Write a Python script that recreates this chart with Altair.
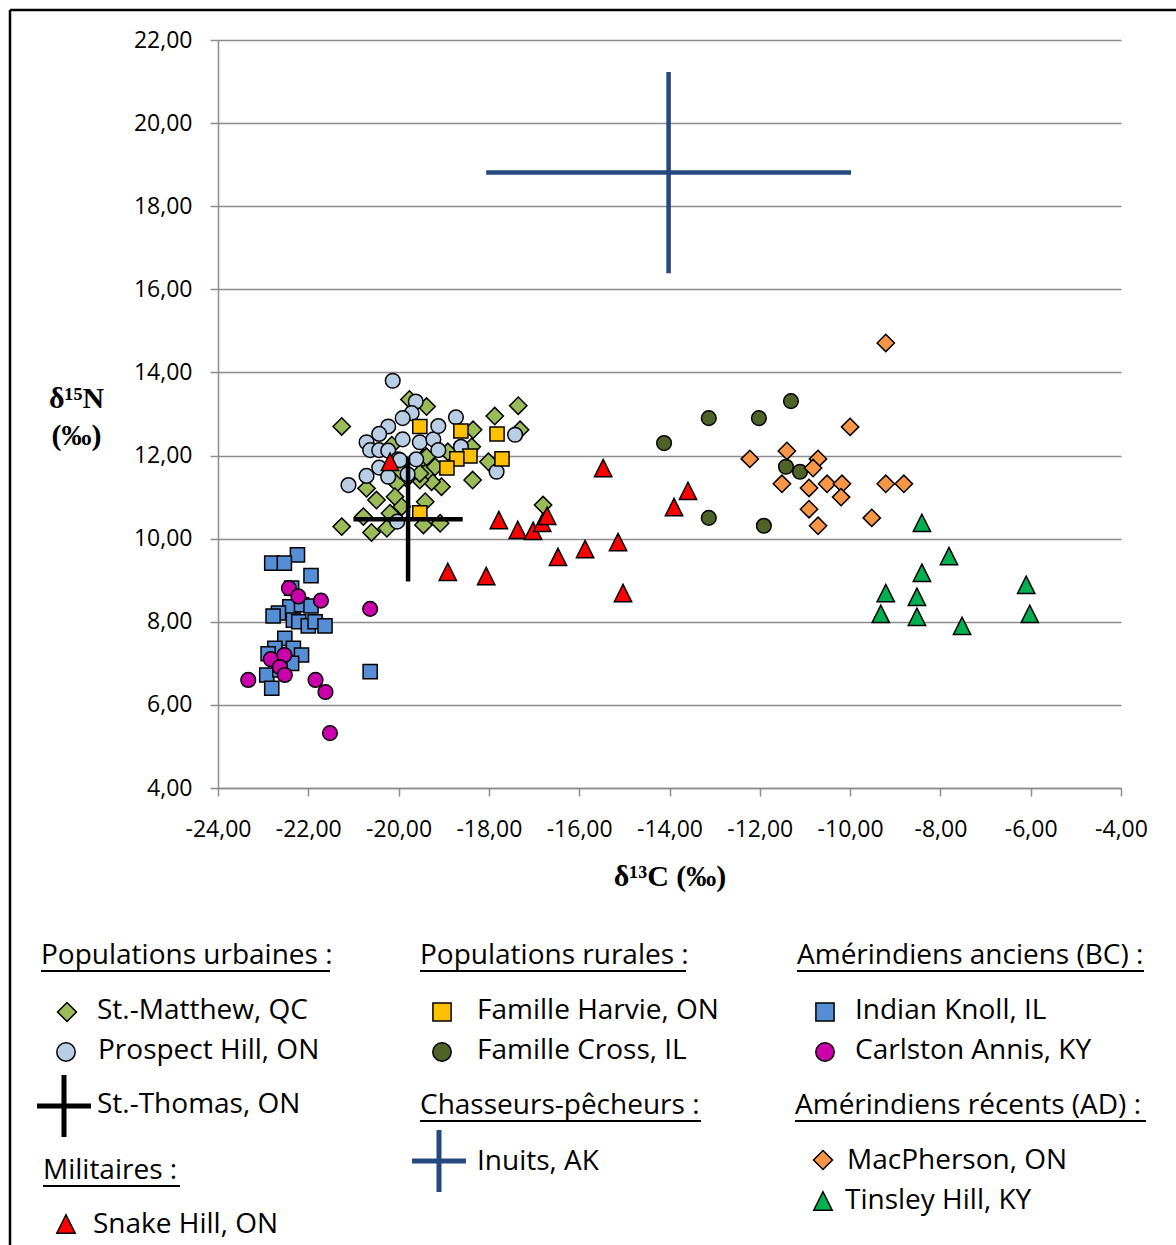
import altair as alt
import pandas as pd

# ---------------- data: (δ13C, δ15N) ----------------
st_matthew = [(-21.26, 12.70), (-19.76, 13.35), (-19.38, 13.18), (-18.35, 12.62), (-17.87, 12.95),
              (-17.35, 13.20), (-17.31, 12.62), (-18.01, 11.85), (-18.36, 11.41), (-19.05, 11.25),
              (-19.27, 11.37), (-19.38, 11.61), (-19.53, 11.41), (-19.46, 11.94), (-19.82, 11.45),
              (-20.04, 11.33), (-20.71, 11.21), (-20.49, 10.93), (-20.08, 11.01), (-19.93, 10.77),
              (-19.41, 10.89), (-20.78, 10.53), (-20.19, 10.61), (-21.26, 10.29), (-20.60, 10.15),
              (-20.26, 10.25), (-19.45, 10.33), (-19.08, 10.37), (-18.91, 12.09), (-19.38, 11.97),
              (-19.97, 11.65), (-19.19, 11.73), (-19.53, 11.57), (-20.15, 12.25), (-16.80, 10.81),
              (-18.38, 12.21)]
prospect_hill = [(-20.13, 13.80), (-19.62, 13.30), (-19.71, 13.02), (-19.91, 12.90), (-20.23, 12.70),
                 (-20.43, 12.52), (-20.71, 12.32), (-20.63, 12.13), (-20.43, 12.13), (-20.23, 12.12),
                 (-19.91, 12.39), (-19.53, 12.32), (-19.23, 12.39), (-19.12, 12.13), (-19.12, 12.71),
                 (-18.73, 12.92), (-18.62, 12.21), (-20.01, 11.91), (-19.61, 11.91), (-20.43, 11.71),
                 (-20.23, 11.49), (-20.71, 11.51), (-21.11, 11.29), (-20.03, 10.41), (-17.83, 11.61),
                 (-17.42, 12.50), (-19.97, 11.89), (-19.80, 11.55)]
famille_harvie = [(-19.53, 12.70), (-18.62, 12.59), (-17.82, 12.52), (-18.42, 11.99), (-18.71, 11.92),
                  (-18.93, 11.70), (-17.71, 11.92), (-19.53, 10.62)]
famille_cross = [(-14.12, 12.30), (-13.13, 12.90), (-12.02, 12.90), (-11.31, 13.31), (-11.42, 11.73),
                 (-11.11, 11.61), (-13.13, 10.50), (-11.91, 10.31)]
indian_knoll = [(-22.24, 9.61), (-22.81, 9.41), (-22.53, 9.41), (-21.94, 9.11), (-22.37, 8.81),
                (-22.41, 8.36), (-22.15, 8.41), (-21.94, 8.38), (-22.66, 8.21), (-22.78, 8.14),
                (-22.33, 8.04), (-22.21, 8.00), (-22.00, 7.90), (-21.85, 8.00), (-21.63, 7.90),
                (-22.52, 7.60), (-22.74, 7.36), (-22.89, 7.23), (-22.33, 7.36), (-22.15, 7.20),
                (-22.37, 7.00), (-22.92, 6.72), (-22.81, 6.40), (-22.63, 6.84), (-20.63, 6.80)]
carlston_annis = [(-22.43, 8.81), (-22.22, 8.61), (-21.72, 8.51), (-20.63, 8.31), (-23.33, 6.60),
                  (-22.83, 7.10), (-22.53, 7.20), (-22.63, 6.91), (-22.52, 6.72), (-21.84, 6.60),
                  (-21.62, 6.31), (-21.52, 5.32)]
macpherson = [(-9.21, 14.71), (-10.00, 12.69), (-12.22, 11.92), (-11.40, 12.11), (-10.71, 11.92),
              (-10.82, 11.70), (-11.51, 11.32), (-10.91, 11.22), (-10.51, 11.32), (-10.18, 11.32),
              (-10.20, 11.00), (-9.21, 11.32), (-8.81, 11.32), (-10.91, 10.71), (-9.52, 10.50),
              (-10.71, 10.31)]
tinsley_hill = [(-8.41, 10.38), (-7.81, 9.58), (-8.41, 9.18), (-9.21, 8.69), (-8.52, 8.60),
                (-9.32, 8.19), (-8.52, 8.12), (-7.52, 7.90), (-6.10, 8.89), (-6.02, 8.19)]
snake_hill = [(-20.19, 11.85), (-15.47, 11.70), (-13.59, 11.15), (-13.90, 10.76), (-17.78, 10.45),
              (-17.36, 10.21), (-17.02, 10.19), (-16.82, 10.38), (-16.71, 10.55), (-16.47, 9.56),
              (-15.87, 9.75), (-15.14, 9.92), (-18.91, 9.20), (-18.06, 9.10), (-15.03, 8.69)]

# mean ± sd crosses
cross_names = ["St.-Thomas, ON", "Inuits, AK"]
cross_c_mean = [-19.79, -14.02]
cross_c_sd = [1.21, 4.04]
cross_n_mean = [10.47, 18.81]
cross_n_sd = [1.50, 2.42]

# axis
x_ticks = [-24, -22, -20, -18, -16, -14, -12, -10, -8, -6, -4]
y_ticks = [4, 6, 8, 10, 12, 14, 16, 18, 20, 22]

# ---------------- styles ----------------
TRI = "M0,-1L1,1L-1,1Z"
CROSS = "M-0.87,0H0.87M0,-1V1"
style = {
    "St.-Matthew, QC": ("diamond", "#9bbb59", 300),
    "Prospect Hill, ON": ("circle", "#b9cde5", 215),
    "Famille Harvie, ON": ("square", "#ffc000", 200),
    "Famille Cross, IL": ("circle", "#4f6228", 215),
    "Indian Knoll, IL": ("square", "#558ed5", 200),
    "Carlston Annis, KY": ("circle", "#cc00aa", 215),
    "MacPherson, ON": ("diamond", "#f79646", 300),
    "Tinsley Hill, KY": (TRI, "#00b050", 300),
    "Snake Hill, ON": (TRI, "#ff0000", 300),
}
cross_color = {"St.-Thomas, ON": "black", "Inuits, AK": "#24487f"}
series = [
    ("St.-Matthew, QC", st_matthew), ("Prospect Hill, ON", prospect_hill),
    ("Famille Harvie, ON", famille_harvie), ("Famille Cross, IL", famille_cross),
    ("Indian Knoll, IL", indian_knoll), ("Carlston Annis, KY", carlston_annis),
    ("MacPherson, ON", macpherson), ("Tinsley Hill, KY", tinsley_hill),
    ("Snake Hill, ON", snake_hill),
]

W, H = 903, 748
LBL_FONT = "Open Sans"
fmt = "(datum.value < 0 ? '-' : '') + replace(format(abs(datum.value), '.2f'), '.', ',')"

xs = alt.Scale(domain=[-24, -4], nice=False, zero=False)
ys = alt.Scale(domain=[4, 22], nice=False, zero=False)

x_axis = alt.Axis(values=x_ticks, labelExpr=fmt, grid=False, domainColor="#8c8c8c", domainWidth=1.5,
                  tickColor="#8c8c8c", tickWidth=1.5, tickSize=8, labelPadding=22,
                  labelFont=LBL_FONT, labelFontSize=23, labelColor="black", labelFlush=False,
                  labelOverlap=False, title="δ¹³C (‰)", titleFont="Liberation Serif",
                  titleFontWeight="bold", titleFontSize=30, titleColor="black",
                  titleY=88, titleBaseline="middle")
y_axis = alt.Axis(values=y_ticks, labelExpr=fmt, grid=True, gridColor="#8c8c8c", gridWidth=1.5,
                  domainColor="#8c8c8c", domainWidth=1.5, tickColor="#8c8c8c", tickWidth=1.5,
                  tickSize=8, labelPadding=18, labelFont=LBL_FONT, labelFontSize=23,
                  labelColor="black", labelFlush=False, labelOverlap=False,
                  title=["δ¹⁵N", "(‰)"], titleFont="Liberation Serif", titleFontWeight="bold",
                  titleFontSize=30, titleColor="black", titleAngle=0, titleAlign="center",
                  titleBaseline="middle", titleX=-142, titleY=358, titleLineHeight=37)

layers = []
for name, pts in series:
    shape, fill, size = style[name]
    df = pd.DataFrame(pts, columns=["c", "n"])
    layers.append(
        alt.Chart(df).mark_point(shape=shape, filled=True, fill=fill, stroke="black",
                                 strokeWidth=1.5, size=size, opacity=1).encode(
            x=alt.X("c:Q", scale=xs, axis=x_axis),
            y=alt.Y("n:Q", scale=ys, axis=y_axis),
        )
    )

cdf = pd.DataFrame({"name": cross_names, "c": cross_c_mean, "csd": cross_c_sd,
                    "n": cross_n_mean, "nsd": cross_n_sd})
cdf["c_lo"] = cdf.c - cdf.csd
cdf["c_hi"] = cdf.c + cdf.csd
cdf["n_lo"] = cdf.n - cdf.nsd
cdf["n_hi"] = cdf.n + cdf.nsd
cdf["col"] = cdf.name.map(cross_color)
# horizontal arm (C ± sd) and vertical arm (N ± sd)
layers.append(alt.Chart(cdf).mark_rule(strokeWidth=4.5).encode(
    x=alt.X("c_lo:Q", scale=xs, axis=x_axis, title="δ¹³C (‰)"), x2="c_hi:Q",
    y=alt.Y("n:Q", scale=ys, axis=y_axis), color=alt.Color("col:N", scale=None)))
layers.append(alt.Chart(cdf).mark_rule(strokeWidth=4.5).encode(
    x=alt.X("c:Q", scale=xs, axis=x_axis), y=alt.Y("n_lo:Q", scale=ys, axis=y_axis,
                                                    title=["δ¹⁵N", "(‰)"]),
    y2="n_hi:Q", color=alt.Color("col:N", scale=None)))

scatter = alt.layer(*layers)

# ---------------- legend (page layout in pixels) ----------------
px = alt.Scale(domain=[0, 1176], range=[-218, 958], zero=False, nice=False)
py = alt.Scale(domain=[0, 1245], range=[-40, 1205], zero=False, nice=False)

legend_headers = ["Populations urbaines :", "Populations rurales :", "Amérindiens anciens (BC) :",
                  "Militaires :", "Chasseurs-pêcheurs :", "Amérindiens récents (AD) :"]
header_layout = [(41, 956, 289), (420, 956, 266), (797, 956, 347),
                 (43, 1171, 137), (420, 1106, 281), (795, 1106, 351)]
hdf = pd.DataFrame({"label": legend_headers,
                    "x": [h[0] for h in header_layout], "y": [h[1] for h in header_layout],
                    "w": [h[2] for h in header_layout]})
hdf["x2"] = hdf.x + hdf.w
hdf["uy"] = hdf.y + 15

legend_items = ["St.-Matthew, QC", "Prospect Hill, ON", "St.-Thomas, ON", "Snake Hill, ON",
                "Famille Harvie, ON", "Famille Cross, IL", "Inuits, AK",
                "Indian Knoll, IL", "Carlston Annis, KY", "MacPherson, ON", "Tinsley Hill, KY"]
item_layout = [(67, 1012, 97, 1011), (66, 1052, 98, 1051), (64, 1106, 97, 1105), (66, 1224, 93, 1225),
               (442, 1012, 477, 1011), (442, 1052, 477, 1051), (439, 1161, 477, 1162),
               (825, 1012, 855, 1011), (825, 1052, 855, 1051), (823, 1160, 847, 1161),
               (823, 1201, 845, 1201)]
idf = pd.DataFrame({"label": legend_items,
                    "sx": [l[0] for l in item_layout], "sy": [l[1] for l in item_layout],
                    "tx": [l[2] for l in item_layout], "ty": [l[3] for l in item_layout]})
legend_sizes = {"diamond": 360, "circle": 340, "square": 330, TRI: 340}
sym = idf[idf.label.isin(style.keys())].copy()
sym["shape"] = sym.label.map(lambda k: style[k][0])
sym["fill"] = sym.label.map(lambda k: style[k][1])
sym["size"] = sym["shape"].map(legend_sizes)
crs = idf[idf.label.isin(cross_color.keys())].copy()
crs["col"] = crs.label.map(cross_color)

frame_df = pd.DataFrame({"x": [10, 10], "y": [10, 10], "x2": [1180, 10], "y2": [10, 1250]})

frame = alt.Chart(frame_df).mark_rule(color="black", strokeWidth=2.5).encode(
    x=alt.X("x:Q", scale=px, axis=None), x2="x2:Q",
    y=alt.Y("y:Q", scale=py, axis=None), y2="y2:Q")
h_text = alt.Chart(hdf).mark_text(align="left", baseline="middle", font=LBL_FONT, fontSize=28,
                                  color="black").encode(
    x=alt.X("x:Q", scale=px, axis=None), y=alt.Y("y:Q", scale=py, axis=None), text="label:N")
h_rule = alt.Chart(hdf).mark_rule(color="black", strokeWidth=2).encode(
    x=alt.X("x:Q", scale=px, axis=None), x2="x2:Q", y=alt.Y("uy:Q", scale=py, axis=None))
l_sym = alt.Chart(sym).mark_point(filled=True, stroke="black", strokeWidth=1.5, opacity=1).encode(
    x=alt.X("sx:Q", scale=px, axis=None), y=alt.Y("sy:Q", scale=py, axis=None),
    shape=alt.Shape("shape:N", scale=None), fill=alt.Fill("fill:N", scale=None),
    size=alt.Size("size:Q", scale=None))
l_cross = alt.Chart(crs).mark_point(shape=CROSS, filled=False, strokeWidth=5, size=3844,
                                    opacity=1).encode(
    x=alt.X("sx:Q", scale=px, axis=None), y=alt.Y("sy:Q", scale=py, axis=None),
    stroke=alt.Stroke("col:N", scale=None))
l_text = alt.Chart(idf).mark_text(align="left", baseline="middle", font=LBL_FONT, fontSize=28,
                                  color="black").encode(
    x=alt.X("tx:Q", scale=px, axis=None), y=alt.Y("ty:Q", scale=py, axis=None), text="label:N")

legend = alt.layer(frame, h_text, h_rule, l_sym, l_cross, l_text)

chart = alt.layer(legend, scatter).resolve_scale(x="independent", y="independent").properties(
    width=W, height=H,
    autosize=alt.AutoSizeParams(type="none"),
    padding={"left": 218, "top": 40, "right": 55, "bottom": 457},
    background="white",
).configure_view(stroke=None)

chart.save("out.html", embed_options={"renderer": "svg", "actions": False})
